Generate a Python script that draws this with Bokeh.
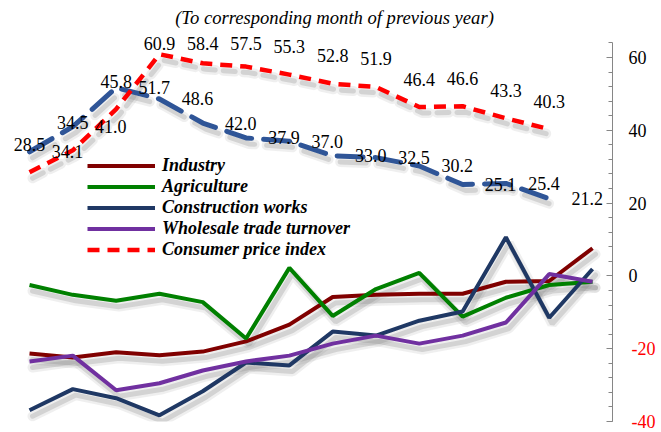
from bokeh.plotting import figure
from bokeh.models import Range1d, LinearAxis, FixedTicker, Label, Legend, LegendItem, ColumnDataSource
from bokeh.core.properties import value
from bokeh.embed import file_html
from bokeh.resources import INLINE
import numpy as np

# ---- data ----
months = list(range(1, 15))
industry = [-21.3, -22.4, -21.0, -21.8, -20.8, -18.0, -13.4, -5.8, -5.2, -4.9, -4.9, -1.6, -1.4, 7.6]
agriculture = [-2.5, -5.2, -6.8, -4.9, -7.2, -17.2, 2.2, -11.0, -3.6, 0.8, -11.2, -6.0, -2.5, -1.6]
construction = [-36.9, -31.1, -33.6, -38.3, -31.7, -23.8, -24.6, -15.3, -16.4, -12.3, -9.8, 10.6, -11.5, 1.9]
wholesale = [-23.5, -21.9, -31.4, -29.5, -26.0, -23.5, -21.9, -18.6, -16.4, -18.6, -16.4, -12.8, 0.5, -1.6]
cpi_months = list(range(1, 14))
cpi = [28.5, 34.5, 45.8, 60.9, 58.4, 57.5, 55.3, 52.8, 51.9, 46.4, 46.6, 43.3, 40.3]
blue_index = [34.1, 41.0, 51.7, 48.6, 42.0, 37.9, 37.0, 33.0, 32.5, 30.2, 25.1, 25.4, 21.2]
major_ticks = [-40, -20, 0, 20, 40, 60]
minor_ticks = list(range(-40, 68, 4))
title_text = "(To corresponding month of previous year)"

FRAME_W, FRAME_H = 612, 421
XR = (0.330, 14.461)
YR = (-40.0, 75.66)
px_x = FRAME_W / (XR[1] - XR[0])
px_y = FRAME_H / (YR[1] - YR[0])

p = figure(frame_width=FRAME_W, frame_height=FRAME_H,
           x_range=Range1d(*XR), y_range=Range1d(*YR),
           output_backend="svg", toolbar_location=None,
           x_axis_location=None, y_axis_location=None,
           min_border_left=0, min_border_top=0, min_border_bottom=11, min_border_right=49)
p.outline_line_color = None
p.grid.visible = False
p.background_fill_color = "white"

SERIF = "Liberation Serif"

# shadow offsets
sdx = 3 / px_x
sdy = -6 / px_y

def shadow(xs, ys, dash="solid"):
    xs2 = np.array(xs, dtype=float) + sdx
    ys2 = np.array(ys, dtype=float) + sdy
    p.line(xs2, ys2, line_color="#7f7f7f", line_alpha=0.12, line_width=10, line_dash=dash, line_cap="round")
    p.line(xs2, ys2, line_color="#7f7f7f", line_alpha=0.25, line_width=5, line_dash=dash, line_cap="round")

solid = [
    ("Industry", industry, "#800000"),
    ("Agriculture", agriculture, "#008000"),
    ("Construction works", construction, "#1f3864"),
    ("Wholesale trade turnover", wholesale, "#7030a0"),
]
for _, ys, _c in solid:
    shadow(months, ys)
shadow(cpi_months, cpi, "12 8")
shadow(cpi_months, blue_index, "26 12")

renderers = {}
for name, ys, c in solid:
    renderers[name] = p.line(months, ys, line_color=c, line_width=4)

r_blue = p.line(cpi_months, blue_index, line_color="#2f5597", line_width=5, line_dash="26 12", line_cap="round")
r_cpi = p.line(cpi_months, cpi, line_color="#ff0000", line_width=4.5, line_dash="12 8")
renderers["Consumer price index"] = r_cpi

# data labels
cpi_lab_y = np.minimum(np.array(cpi) + 28 / px_y, 63.9)
src_cpi = ColumnDataSource(dict(x=cpi_months, y=cpi_lab_y, t=[f"{v:.1f}" for v in cpi]))
p.text(x="x", y="y", text="t", source=src_cpi, text_align="center", text_baseline="middle",
       text_font=value(SERIF), text_font_size="18px", text_color="black")
src_blue = ColumnDataSource(dict(x=cpi_months, y=blue_index, t=[f"{v:.1f}" for v in blue_index]))
p.text(x="x", y="y", text="t", source=src_blue, text_align="center", text_baseline="middle",
       x_offset=38, text_font=value(SERIF), text_font_size="18px", text_color="black")

# right axis: line, ticks and black (non-negative) labels
ticker = FixedTicker(ticks=major_ticks, minor_ticks=minor_ticks)
ax = LinearAxis(ticker=ticker, bounds=(-40, 64))
ax.axis_line_color = "#868686"
ax.major_tick_line_color = "#868686"
ax.minor_tick_line_color = "#868686"
ax.major_tick_in = 6
ax.major_tick_out = 0
ax.minor_tick_in = 4
ax.minor_tick_out = 0
ax.major_label_standoff = 16
ax.major_label_text_font = SERIF
ax.major_label_text_font_size = "18px"
ax.major_label_text_color = "black"
ax.major_label_overrides = {t: "" for t in major_ticks if t < 0}
p.add_layout(ax, "right")

# second axis carrying the red negative labels, pulled back into the same column
ax2 = LinearAxis(ticker=ticker, bounds=(-40, 64))
ax2.axis_line_color = None
ax2.major_tick_line_color = None
ax2.minor_tick_line_color = None
ax2.major_tick_in = 0
ax2.major_tick_out = 0
ax2.minor_tick_in = 0
ax2.minor_tick_out = 0
ax2.major_label_standoff = -18
ax2.major_label_text_font = SERIF
ax2.major_label_text_font_size = "18px"
ax2.major_label_text_color = "#ff0000"
ax2.major_label_overrides = {t: ("" if t >= 0 else f"{t}") for t in major_ticks}
p.add_layout(ax2, "right")

# title
p.add_layout(Label(x=XR[0] + 334 / px_x, y=YR[1] - 17 / px_y, text=title_text, text_align="center",
                   text_baseline="middle", text_font=SERIF, text_font_size="18.6px",
                   text_font_style="italic", text_color="black"))

legend = Legend(items=[LegendItem(label=n, renderers=[renderers[n]]) for n in
                       ["Industry", "Agriculture", "Construction works", "Wholesale trade turnover", "Consumer price index"]],
                location=(87, FRAME_H - 259.5))
legend.border_line_color = None
legend.background_fill_alpha = 0
legend.padding = 0
legend.margin = 0
legend.spacing = 0
legend.glyph_width = 68
legend.glyph_height = 21
legend.label_height = 21
legend.label_standoff = 7
legend.label_text_font = SERIF
legend.label_text_font_style = "bold italic"
legend.label_text_font_size = "18px"
legend.label_text_color = "black"
p.add_layout(legend)

open("out.html", "w").write(file_html(p, INLINE))
